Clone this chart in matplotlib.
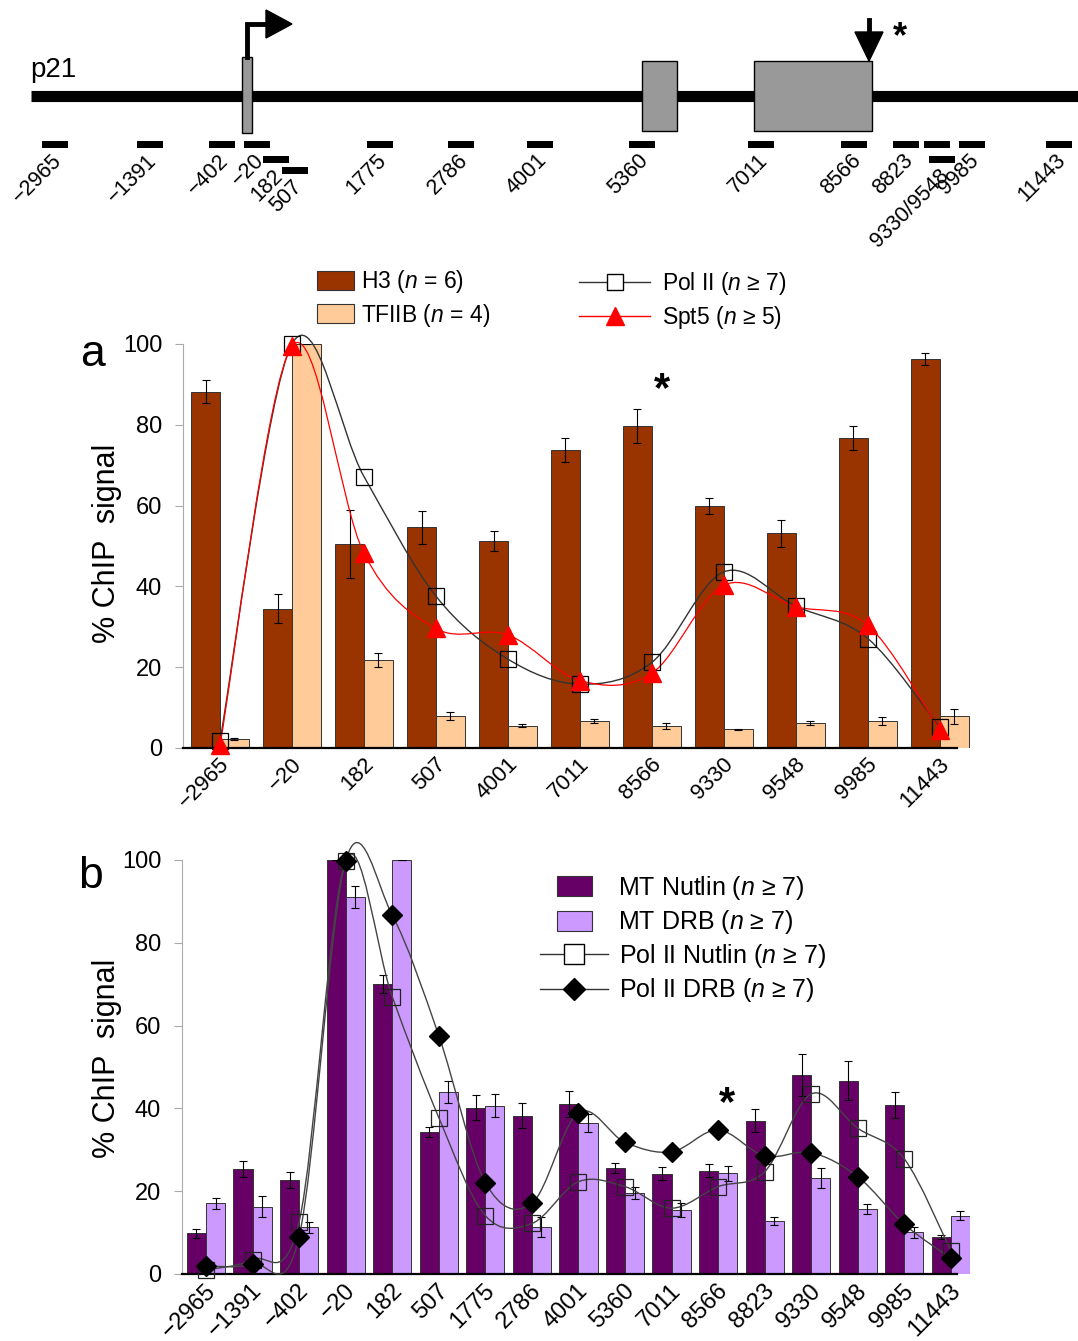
import numpy as np
import matplotlib
matplotlib.use('Agg')
from matplotlib import pyplot as plt
from matplotlib.path import Path
from matplotlib.patches import PathPatch, Rectangle, Polygon, Patch
from matplotlib.lines import Line2D
from matplotlib.transforms import ScaledTranslation

plt.rcParams['font.family'] = ['Liberation Sans', 'DejaVu Sans']
plt.rcParams['mathtext.fontset'] = 'custom'
plt.rcParams['mathtext.rm'] = 'Liberation Sans'
plt.rcParams['mathtext.it'] = 'Liberation Sans:italic'

W, H = 1078, 1341

# gene map (schematic, map units ~ pixels of the strip)
map_sites = ['−2965', '−1391', '−402', '−20', '182', '507', '1775', '2786', '4001',
             '5360', '7011', '8566', '8823', '', '9330/9548', '9985', '11443']
map_pos = [55, 150, 222, 257, 276, 295, 380, 461, 540, 642, 761, 854, 906, 937, 942, 972, 1059]
map_row = [0, 0, 0, 0, 1, 2, 0, 0, 0, 0, 0, 0, 0, 0, 1, 0, 0]
exons = [(242, 252), (642, 677), (754, 872)]

# panel a
sites_a = ['−2965', '−20', '182', '507', '4001', '7011', '8566', '9330', '9548', '9985', '11443']
h3 = [88.2, 34.5, 50.6, 54.6, 51.2, 73.8, 79.7, 60.0, 53.1, 76.7, 96.3]
h3_err = [2.8, 3.6, 8.4, 4.0, 2.5, 3.0, 4.2, 2.0, 3.3, 3.0, 1.4]
tfiib = [2.2, 100, 21.7, 8.0, 5.5, 6.8, 5.4, 4.6, 6.2, 6.6, 7.8]
tfiib_err = [0.2, 0, 1.7, 1.0, 0.4, 0.5, 0.8, 0.2, 0.5, 1.0, 1.8]
pol2_a = [1.8, 100, 67.2, 37.6, 22.0, 15.8, 21.2, 43.6, 35.1, 27.1, 5.1]
spt5 = [0.7, 99.5, 48.2, 29.6, 28.0, 16.7, 18.5, 40.3, 35.0, 30.4, 4.5]

# panel b
sites_b = ['−2965', '−1391', '−402', '−20', '182', '507', '1775', '2786', '4001',
           '5360', '7011', '8566', '8823', '9330', '9548', '9985', '11443']
mt_nutlin = [9.8, 25.4, 22.7, 100, 70.0, 34.3, 40.2, 38.2, 41.1, 25.5, 24.2, 25.0, 37.0, 48.1, 46.7, 40.8, 8.9]
mt_nutlin_err = [1.0, 2.0, 1.9, 0, 2.2, 1.1, 3.0, 3.0, 3.2, 1.2, 1.6, 1.6, 2.8, 5.0, 4.7, 3.2, 0.5]
mt_drb = [17.1, 16.3, 11.3, 91.1, 100, 43.9, 40.7, 11.3, 36.4, 19.5, 15.5, 24.3, 12.8, 23.1, 15.7, 10.1, 14.1]
mt_drb_err = [1.3, 2.5, 1.3, 2.6, 0, 2.6, 2.8, 2.4, 2.2, 1.4, 1.7, 1.8, 1.0, 2.4, 1.1, 1.3, 1.0]
pol2_nutlin = [1.0, 3.5, 12.6, 99.8, 67.0, 37.8, 14.1, 12.2, 22.3, 21.1, 15.9, 21.1, 24.7, 43.5, 35.2, 27.8, 5.6]
pol2_drb = [1.9, 2.4, 9.0, 99.8, 86.7, 57.6, 22.1, 17.1, 39.0, 31.8, 29.5, 34.8, 28.5, 29.3, 23.5, 12.0, 3.8]

c_h3, c_tfiib = '#993300', '#ffcc99'
c_nut, c_drb = '#660066', '#cc99ff'
edge = '#333333'


def smooth(ax, x, y, color, lw=1.0):
    # excel-style smoothed line as cubic bezier segments
    p = np.column_stack([x, y]).astype(float)
    n = len(p)
    verts, codes = [p[0]], [Path.MOVETO]
    for i in range(n - 1):
        prev = p[max(i - 1, 0)]
        nxt = p[min(i + 2, n - 1)]
        verts += [p[i] + (p[i + 1] - prev) / 6, p[i + 1] - (nxt - p[i]) / 6, p[i + 1]]
        codes += [Path.CURVE4] * 3
    ax.add_patch(PathPatch(Path(verts, codes), fill=False, edgecolor=color, lw=lw,
                           clip_on=False, zorder=3))


def style_axes(ax, labels, right_end, fig, xsize=16):
    ax.set_ylim(0, 100)
    ax.set_yticks([0, 20, 40, 60, 80, 100])
    for s in ['top', 'right']:
        ax.spines[s].set_visible(False)
    ax.spines['left'].set_color('#aaaaaa')
    ax.spines['left'].set_linewidth(0.8)
    ax.spines['bottom'].set_linewidth(1.6)
    ax.spines['bottom'].set_bounds(ax.get_xlim()[0], right_end)
    ax.tick_params(axis='y', direction='out', length=6, width=0.8, color='#aaaaaa',
                   labelsize=17, pad=9)
    ax.tick_params(axis='x', length=0, labelsize=xsize, pad=4)
    ax.set_xticks(np.arange(len(labels)))
    ax.set_xticklabels(labels, rotation=45, ha='right', va='top')
    off = ScaledTranslation(14 / 100, 0, fig.dpi_scale_trans)
    for t in ax.get_xticklabels():
        t.set_transform(t.get_transform() + off)


fig = plt.figure(figsize=(W / 100, H / 100), dpi=100)

# ---- gene map
ax0 = fig.add_axes([0, 1 - 250 / H, 1, 250 / H])
ax0.set_xlim(0, W)
ax0.set_ylim(250, 0)
ax0.axis('off')
ax0.plot([31, W], [96, 96], color='black', lw=8, solid_capstyle='butt', zorder=1)
for i, (x0, x1) in enumerate(exons):
    top, bot = (57, 133) if i == 0 else (61, 131)
    ax0.add_patch(Rectangle((x0, top), x1 - x0, bot - top, fc='#999999', ec='black', lw=1, zorder=2))
ax0.plot([247, 247, 268], [57, 24, 24], color='black', lw=3.5, solid_joinstyle='miter', zorder=2)
ax0.add_patch(Polygon([[266, 10], [266, 38], [292, 24]], closed=True, fc='black', ec='black'))
ax0.plot([869, 869], [20, 36], color='black', lw=3.5)
ax0.add_patch(Polygon([[855, 32], [883, 32], [869, 61]], closed=True, fc='black', ec='black'))
ax0.text(900, 38, '*', fontsize=26, fontweight='bold', ha='center', va='center')
ax0.text(30, 77, 'p21', fontsize=20, ha='left', va='baseline')
row_y = [141, 156, 167]
for lab, x, r in zip(map_sites, map_pos, map_row):
    ax0.add_patch(Rectangle((x - 13, row_y[r]), 26, 7, fc='black', ec='none'))
    if lab:
        ax0.text(x + 11, row_y[r] + 9, lab, rotation=45, ha='right', va='top', fontsize=15.5)

# ---- panel a
axa = fig.add_axes([183 / W, (H - 748) / H, (970 - 183) / W, 404 / H])
ia = np.arange(len(sites_a))
axa.set_xlim(-0.514, 10.42)
ekw = dict(ecolor='black', elinewidth=0.8, capsize=3, capthick=0.8)
axa.bar(ia - 0.2, h3, 0.4, yerr=h3_err, color=c_h3, edgecolor=edge, lw=0.7, error_kw=ekw, zorder=2)
axa.bar(ia + 0.2, tfiib, 0.4, yerr=tfiib_err, color=c_tfiib, edgecolor=edge, lw=0.7, error_kw=ekw, zorder=2)
smooth(axa, ia, pol2_a, '#333333', 1.0)
smooth(axa, ia, spt5, '#ff0000', 0.9)
axa.plot(ia, pol2_a, 's', ms=12, mfc='none', mec='black', mew=0.9, clip_on=False, zorder=4)
axa.plot(ia, spt5, '^', ms=13, mfc='red', mec='red', clip_on=False, zorder=5)
style_axes(axa, sites_a, 10.24, fig)
axa.text(6.14, 88.5, '*', fontsize=30, fontweight='bold', ha='center', va='center')

leg1 = axa.legend(handles=[Patch(fc=c_h3, ec=edge, lw=0.8, label=r'H3 ($\it{n}$ = 6)'),
                           Patch(fc=c_tfiib, ec=edge, lw=0.8, label=r'TFIIB ($\it{n}$ = 4)')],
                  loc='upper left', bbox_to_anchor=(317 / W, 1 - 268 / H), bbox_transform=fig.transFigure,
                  frameon=False, fontsize=16.5, handlelength=1.6, handleheight=0.9, handletextpad=0.3,
                  labelspacing=0.3, borderpad=0, borderaxespad=0)
axa.add_artist(leg1)
axa.legend(handles=[Line2D([], [], color='#333333', lw=1, marker='s', ms=12, mfc='white', mec='black',
                           label='Pol II ($\\it{n}$ ≥ 7)'),
                    Line2D([], [], color='red', lw=1, marker='^', ms=13, mfc='red', mec='red',
                           label='Spt5 ($\\it{n}$ ≥ 5)')],
           loc='upper left', bbox_to_anchor=(579 / W, 1 - 270 / H), bbox_transform=fig.transFigure,
           frameon=False, fontsize=16.5, handlelength=3.1, handletextpad=0.5,
           labelspacing=0.3, borderpad=0, borderaxespad=0)

fig.text(122 / W, 1 - 543 / H, '% ChIP  signal', rotation=90, ha='right', va='center', fontsize=22)
fig.text(80 / W, 1 - 366 / H, 'a', fontsize=32, ha='left', va='baseline')

# ---- panel b
axb = fig.add_axes([182 / W, (H - 1274) / H, (970 - 182) / W, 414 / H])
ib = np.arange(len(sites_b))
axb.set_xlim(-0.515, 16.41)
axb.bar(ib - 0.205, mt_nutlin, 0.41, yerr=mt_nutlin_err, color=c_nut, edgecolor=edge, lw=0.7,
        error_kw=ekw, zorder=2)
axb.bar(ib + 0.205, mt_drb, 0.41, yerr=mt_drb_err, color=c_drb, edgecolor=edge, lw=0.7,
        error_kw=ekw, zorder=2)
smooth(axb, ib, pol2_nutlin, '#444444', 1.0)
smooth(axb, ib, pol2_drb, '#444444', 1.0)
axb.plot(ib, pol2_nutlin, 's', ms=12, mfc='none', mec='#222222', mew=0.9, clip_on=False, zorder=4)
axb.plot(ib, pol2_drb, 'D', ms=10, mfc='black', mec='black', clip_on=False, zorder=5)
style_axes(axb, sites_b, 16.13, fig, xsize=17)
axb.text(11.19, 41.0, '*', fontsize=30, fontweight='bold', ha='center', va='center')

leg3 = axb.legend(handles=[Patch(fc=c_nut, ec=edge, lw=0.8, label='MT Nutlin ($\\it{n}$ ≥ 7)'),
                           Patch(fc=c_drb, ec=edge, lw=0.8, label='MT DRB ($\\it{n}$ ≥ 7)')],
                  loc='upper left', bbox_to_anchor=(557 / W, 1 - 874 / H), bbox_transform=fig.transFigure,
                  frameon=False, fontsize=18, handlelength=1.4, handleheight=0.85, handletextpad=1.05,
                  labelspacing=0.25, borderpad=0, borderaxespad=0)
axb.add_artist(leg3)
axb.legend(handles=[Line2D([], [], color='#333333', lw=1, marker='s', ms=14, mfc='white', mec='black',
                           label='Pol II Nutlin ($\\it{n}$ ≥ 7)'),
                    Line2D([], [], color='#333333', lw=1, marker='D', ms=11, mfc='black', mec='black',
                           label='Pol II DRB ($\\it{n}$ ≥ 7)')],
           loc='upper left', bbox_to_anchor=(540 / W, 1 - 942 / H), bbox_transform=fig.transFigure,
           frameon=False, fontsize=18, handlelength=2.7, handletextpad=0.45,
           labelspacing=0.25, borderpad=0, borderaxespad=0)

fig.text(122 / W, 1 - 1058 / H, '% ChIP  signal', rotation=90, ha='right', va='center', fontsize=22)
fig.text(78 / W, 1 - 888 / H, 'b', fontsize=32, ha='left', va='baseline')

fig.savefig('out.png', dpi=100)
